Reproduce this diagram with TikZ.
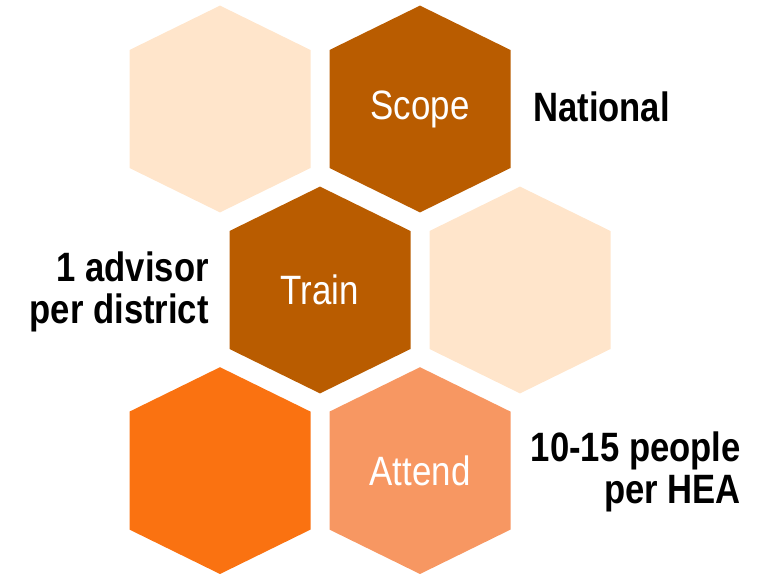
\documentclass[tikz,border=0pt]{standalone}
\usepackage{fontspec}
\setmainfont{Liberation Sans}
\newfontfamily\hexfont[FakeStretch=0.85]{Liberation Sans}
\newfontfamily\labfont[FakeStretch=0.845]{Liberation Sans}
\definecolor{peach}{HTML}{FFE5CB}
\definecolor{hexbrown}{HTML}{B95C00}
\definecolor{hexorange}{HTML}{FA7211}
\definecolor{salmon}{HTML}{F79762}
\begin{document}
\begin{tikzpicture}[x=1pt,y=-1pt,
  hexlabel/.style={text=white,font=\hexfont\fontsize{41}{45}\selectfont,inner sep=0pt},
  sidelabel/.style={text=black,font=\labfont\bfseries\fontsize{41}{42}\selectfont,inner sep=0pt}]
\useasboundingbox (0,0) rectangle (763,573);
\foreach \n/\x/\y/\c in {h1/220/109/peach, h2/420/109/hexbrown, h3/320/290/hexbrown, h4/520/290/peach, h5/220/470.6/hexorange, h6/420/470.6/salmon}{
  \fill[\c] (\x,\y) +(0,-103.4) -- +(90.5,-59) -- +(90.5,59) -- +(0,103.4) -- +(-90.5,59) -- +(-90.5,-59) -- cycle;
  \coordinate (\n) at (\x,\y);
}
\node[hexlabel] (scope) at (h2) {Scope};
\node[hexlabel] (train) at (h3) {Train};
\node[hexlabel] (attend) at (h6) {Attend};
\node[sidelabel,anchor=base west] (national) at (533,121.7) {National};
\node[sidelabel,anchor=base east,align=right] (advisor) at (209,323) {1 advisor\\per district};
\node[sidelabel,anchor=base east,align=right] (people) at (741,503.5) {10-15 people\\per HEA};
\end{tikzpicture}
\end{document}
